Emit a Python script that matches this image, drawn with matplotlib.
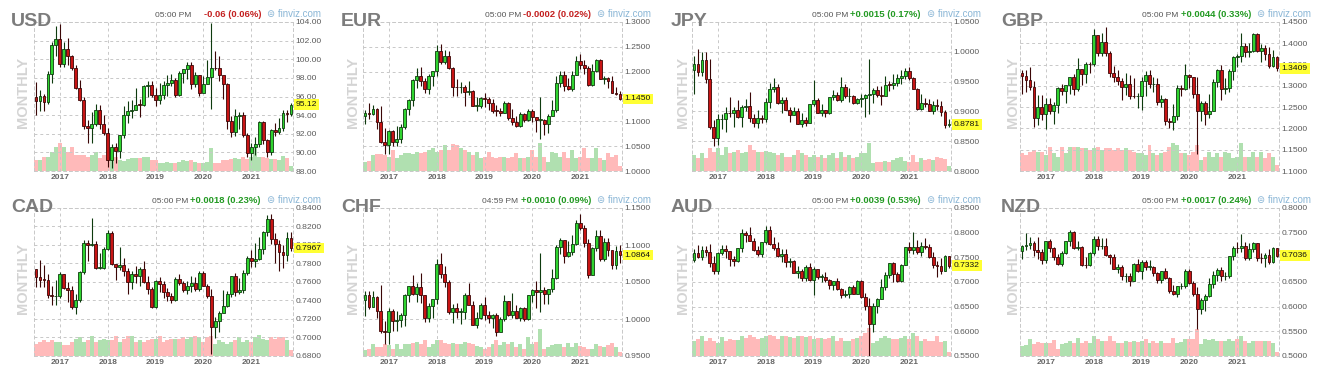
import matplotlib.pyplot as plt
import numpy as np
import pandas as pd
from matplotlib.ticker import FuncFormatter

plt.rcParams['font.family'] = ['Liberation Sans', 'DejaVu Sans']

# monthly candles, Jul 2016 .. Nov 2021 (65 months)
MONTHS = pd.date_range('2016-07-01', periods=65, freq='MS')

# ---- USD ----
USD_O0 = 96.0
USD_C = [95.53, 96.02, 95.45, 98.41, 101.50, 102.21,
         99.51, 101.12, 100.35, 99.05, 96.92, 95.63, 92.86, 92.67, 93.08, 94.55, 93.05, 92.12,
         89.13, 90.61, 90.15, 91.84, 93.98, 94.47, 94.54, 95.14, 95.13, 97.13, 97.27, 96.17,
         95.58, 96.14, 97.28, 97.48, 97.75, 96.13, 98.52, 98.92, 99.38, 97.35, 98.27, 96.39,
         97.39, 98.13, 99.05, 99.02, 98.34, 97.39, 93.35, 92.14, 93.89, 94.04, 91.87, 89.94,
         90.58, 90.88, 93.23, 91.28, 90.03, 92.44, 92.17, 92.63, 94.23, 94.12, 95.12]
USD_H = [97.6, 96.7, 96.3, 98.7, 101.9, 103.6,
         103.8, 101.8, 102.3, 100.5, 99.4, 97.8, 96.0, 93.5, 94.3, 95.2, 95.1, 94.0,
         92.6, 90.9, 91.0, 91.9, 95.0, 95.5, 95.6, 96.9, 95.7, 97.2, 97.7, 97.7,
         96.9, 97.4, 97.7, 98.3, 98.4, 98.0, 98.7, 99.0, 99.7, 99.7, 98.6, 98.3,
         98.2, 99.9, 103.9, 100.9, 100.4, 97.8, 97.5, 93.9, 94.7, 94.3, 94.3, 92.1,
         91.0, 91.6, 93.4, 93.4, 91.4, 92.5, 93.2, 93.7, 94.5, 94.6, 95.3]
USD_L = [94.0, 94.4, 94.4, 95.2, 97.4, 100.4,
         99.2, 99.2, 99.4, 98.8, 96.8, 95.5, 92.5, 91.0, 91.0, 92.8, 92.5, 91.9,
         88.4, 88.3, 88.9, 89.4, 91.5, 93.2, 93.7, 94.5, 93.8, 95.0, 96.0, 95.9,
         95.0, 95.2, 95.7, 96.1, 97.1, 95.9, 96.1, 97.4, 97.9, 96.8, 97.0, 96.1,
         96.8, 97.3, 94.7, 98.8, 97.7, 95.7, 92.5, 91.7, 91.8, 92.5, 91.7, 89.5,
         89.2, 89.7, 90.6, 90.9, 89.5, 89.7, 91.8, 92.0, 92.3, 93.3, 93.9]
USD_V = [33, 33, 43, 43, 58, 73,
         83, 73, 58, 73, 48, 48, 48, 43, 48, 58, 38, 48,
         43, 63, 43, 33, 31, 35, 38, 38, 38, 43, 41, 33,
         33, 23, 23, 28, 23, 23, 28, 33, 31, 33, 28, 23,
         23, 28, 68, 23, 23, 33, 33, 35, 38, 35, 43, 35,
         43, 68, 43, 43, 38, 35, 35, 33, 45, 38, 16]

# ---- EUR ----
EUR_O0 = 1.1105
EUR_C = [1.1174, 1.1157, 1.1240, 1.0981, 1.0588, 1.0517,
         1.0798, 1.0575, 1.0652, 1.0895, 1.1243, 1.1426, 1.1841, 1.1907, 1.1814, 1.1648, 1.1904, 1.2005,
         1.2414, 1.2194, 1.2324, 1.2075, 1.1692, 1.1684, 1.1692, 1.1600, 1.1605, 1.1311, 1.1314, 1.1466,
         1.1448, 1.1372, 1.1217, 1.1215, 1.1168, 1.1371, 1.1073, 1.0989, 1.0898, 1.1152, 1.1017, 1.1213,
         1.1093, 1.1027, 1.1031, 1.0955, 1.1101, 1.1234, 1.1778, 1.1936, 1.1720, 1.1646, 1.1928, 1.2216,
         1.2136, 1.2075, 1.1730, 1.2020, 1.2227, 1.1858, 1.1870, 1.1808, 1.1580, 1.1558, 1.1450]
EUR_H = [1.1234, 1.1366, 1.1327, 1.1278, 1.1300, 1.0875,
         1.0829, 1.0829, 1.0906, 1.0951, 1.1268, 1.1446, 1.1846, 1.2070, 1.2092, 1.1880, 1.1961, 1.2023,
         1.2537, 1.2556, 1.2446, 1.2414, 1.2097, 1.1852, 1.1791, 1.1734, 1.1815, 1.1625, 1.1500, 1.1486,
         1.1570, 1.1489, 1.1448, 1.1324, 1.1265, 1.1412, 1.1393, 1.1250, 1.1109, 1.1179, 1.1176, 1.1239,
         1.1239, 1.1097, 1.1496, 1.1040, 1.1147, 1.1422, 1.1908, 1.2011, 1.2011, 1.1880, 1.2004, 1.2310,
         1.2349, 1.2243, 1.2114, 1.2150, 1.2265, 1.2254, 1.1909, 1.1901, 1.1909, 1.1692, 1.1616]
EUR_L = [1.0952, 1.1046, 1.1122, 1.0852, 1.0569, 1.0352,
         1.0340, 1.0494, 1.0495, 1.0570, 1.0839, 1.1118, 1.1312, 1.1662, 1.1717, 1.1574, 1.1554, 1.1718,
         1.1916, 1.2155, 1.2155, 1.2055, 1.1510, 1.1508, 1.1576, 1.1301, 1.1527, 1.1302, 1.1216, 1.1269,
         1.1289, 1.1234, 1.1176, 1.1110, 1.1107, 1.1160, 1.1028, 1.0926, 1.0879, 1.0879, 1.0981, 1.1003,
         1.0992, 1.0778, 1.0636, 1.0727, 1.0767, 1.1098, 1.1185, 1.1696, 1.1612, 1.1622, 1.1603, 1.1924,
         1.2060, 1.1952, 1.1704, 1.1704, 1.1986, 1.1846, 1.1752, 1.1664, 1.1563, 1.1524, 1.1432]
EUR_V = [28, 31, 48, 51, 51, 48,
         43, 63, 38, 48, 53, 53, 51, 58, 53, 58, 63, 68,
         58, 63, 78, 63, 81, 78, 68, 63, 58, 48, 58, 38,
         43, 58, 43, 38, 43, 43, 38, 43, 53, 38, 38, 43,
         63, 43, 83, 43, 28, 58, 53, 43, 58, 38, 63, 38,
         43, 68, 38, 38, 68, 38, 33, 53, 43, 48, 16]

# ---- JPY ----
JPY_O0 = 0.9690
JPY_C = [0.9798, 0.9669, 0.9867, 0.9539, 0.8737, 0.8550,
         0.8866, 0.8868, 0.8977, 0.8969, 0.9027, 0.8898, 0.9070, 0.9092, 0.8888, 0.8798, 0.8887, 0.8874,
         0.9160, 0.9374, 0.9412, 0.9145, 0.9190, 0.9029, 0.8940, 0.9007, 0.8795, 0.8855, 0.8805, 0.9117,
         0.9185, 0.8979, 0.9022, 0.8975, 0.9236, 0.9272, 0.9193, 0.9409, 0.9252, 0.9257, 0.9133, 0.9207,
         0.9229, 0.9268, 0.9299, 0.9355, 0.9278, 0.9265, 0.9449, 0.9445, 0.9471, 0.9555, 0.9588, 0.9685,
         0.9553, 0.9383, 0.9032, 0.9148, 0.9127, 0.9001, 0.9114, 0.9089, 0.8986, 0.8776, 0.8781]
JPY_H = [0.993, 1.005, 0.999, 0.999, 0.988, 0.886,
         0.896, 0.896, 0.908, 0.925, 0.907, 0.919, 0.910, 0.921, 0.932, 0.895, 0.902, 0.894,
         0.923, 0.947, 0.956, 0.946, 0.925, 0.925, 0.907, 0.908, 0.906, 0.898, 0.890, 0.912,
         0.953, 0.922, 0.912, 0.903, 0.923, 0.936, 0.933, 0.957, 0.946, 0.939, 0.927, 0.922,
         0.929, 0.930, 0.988, 0.940, 0.943, 0.943, 0.960, 0.951, 0.962, 0.962, 0.969, 0.972,
         0.975, 0.958, 0.940, 0.930, 0.923, 0.921, 0.917, 0.920, 0.917, 0.903, 0.887]
JPY_L = [0.930, 0.959, 0.959, 0.948, 0.871, 0.842,
         0.843, 0.870, 0.866, 0.891, 0.874, 0.889, 0.873, 0.901, 0.883, 0.874, 0.872, 0.880,
         0.882, 0.905, 0.932, 0.912, 0.898, 0.902, 0.883, 0.894, 0.879, 0.873, 0.876, 0.880,
         0.909, 0.897, 0.892, 0.890, 0.895, 0.919, 0.917, 0.915, 0.922, 0.915, 0.912, 0.912,
         0.907, 0.891, 0.895, 0.914, 0.925, 0.910, 0.928, 0.934, 0.938, 0.943, 0.946, 0.954,
         0.952, 0.937, 0.902, 0.902, 0.907, 0.900, 0.895, 0.902, 0.892, 0.872, 0.874]
JPY_V = [48, 38, 53, 38, 68, 58,
         68, 48, 73, 53, 58, 63, 53, 58, 78, 63, 58, 58,
         61, 58, 53, 48, 53, 43, 43, 48, 63, 53, 48, 43,
         48, 43, 48, 38, 48, 53, 38, 58, 43, 48, 38, 43,
         53, 53, 83, 23, 28, 28, 30, 28, 33, 38, 43, 30,
         28, 48, 28, 38, 33, 35, 33, 43, 38, 35, 15]

# ---- GBP ----
GBP_O0 = 1.3311
GBP_C = [1.3233, 1.3131, 1.2973, 1.2244, 1.2511, 1.2340,
         1.2575, 1.2411, 1.2551, 1.2946, 1.2887, 1.3025, 1.3210, 1.2929, 1.3398, 1.3281, 1.3525, 1.3503,
         1.4190, 1.3772, 1.4029, 1.3762, 1.3301, 1.3197, 1.3123, 1.2969, 1.3035, 1.2765, 1.2751, 1.2755,
         1.3117, 1.3264, 1.3034, 1.3041, 1.2624, 1.2697, 1.2165, 1.2160, 1.2293, 1.2939, 1.2936, 1.3261,
         1.3205, 1.2818, 1.2421, 1.2591, 1.2344, 1.2401, 1.3089, 1.3372, 1.2918, 1.2944, 1.3346, 1.3673,
         1.3705, 1.3936, 1.3784, 1.3815, 1.4214, 1.3827, 1.3900, 1.3755, 1.3473, 1.3684, 1.3409]
GBP_H = [1.3372, 1.3372, 1.3445, 1.3120, 1.2775, 1.2775,
         1.2706, 1.2706, 1.2615, 1.2965, 1.3048, 1.3013, 1.3212, 1.3268, 1.3658, 1.3339, 1.3549, 1.3549,
         1.4345, 1.4145, 1.4245, 1.4377, 1.3822, 1.3473, 1.3363, 1.3195, 1.3298, 1.3257, 1.3176, 1.2841,
         1.3216, 1.3350, 1.3381, 1.3197, 1.3177, 1.2784, 1.2709, 1.2249, 1.2582, 1.3013, 1.3012, 1.3514,
         1.3284, 1.3200, 1.3200, 1.2648, 1.2647, 1.2813, 1.3169, 1.3395, 1.3482, 1.3177, 1.3398, 1.3703,
         1.3758, 1.4241, 1.4006, 1.4009, 1.4250, 1.4249, 1.3984, 1.3958, 1.3913, 1.3834, 1.3698]
GBP_L = [1.2797, 1.2866, 1.2913, 1.2030, 1.2086, 1.2200,
         1.1986, 1.2345, 1.2109, 1.2366, 1.2774, 1.2589, 1.2812, 1.2774, 1.2874, 1.3028, 1.3063, 1.3300,
         1.3455, 1.3712, 1.3712, 1.3712, 1.3205, 1.3101, 1.3011, 1.2662, 1.2786, 1.2695, 1.2723, 1.2477,
         1.2438, 1.2773, 1.2945, 1.2867, 1.2560, 1.2506, 1.2080, 1.2015, 1.1959, 1.2195, 1.2769, 1.2905,
         1.2955, 1.2725, 1.1409, 1.2165, 1.2076, 1.2252, 1.2479, 1.2983, 1.2676, 1.2806, 1.2854, 1.3135,
         1.3451, 1.3567, 1.3668, 1.3668, 1.3801, 1.3787, 1.3572, 1.3602, 1.3412, 1.3434, 1.3352]
GBP_V = [53, 48, 58, 63, 58, 58,
         48, 73, 53, 43, 73, 53, 73, 73, 73, 68, 68, 63,
         68, 73, 63, 68, 68, 63, 68, 63, 68, 63, 58, 53,
         53, 48, 78, 53, 48, 53, 58, 73, 83, 78, 53, 53,
         48, 58, 78, 33, 43, 58, 43, 53, 43, 58, 53, 38,
         43, 83, 43, 43, 58, 43, 58, 38, 55, 43, 18]

# ---- CAD ----
CAD_O0 = 0.7741
CAD_C = [0.7658, 0.7623, 0.7621, 0.7458, 0.7444, 0.7444,
         0.7688, 0.7530, 0.7518, 0.7326, 0.7407, 0.7712, 0.8023, 0.8005, 0.8015, 0.7753, 0.7754, 0.7956,
         0.8129, 0.7797, 0.7762, 0.7786, 0.7715, 0.7605, 0.7689, 0.7663, 0.7745, 0.7602, 0.7526, 0.7333,
         0.7612, 0.7583, 0.7489, 0.7446, 0.7401, 0.7636, 0.7594, 0.7512, 0.7552, 0.7594, 0.7527, 0.7699,
         0.7553, 0.7454, 0.7112, 0.7182, 0.7261, 0.7342, 0.7466, 0.7667, 0.7494, 0.7509, 0.7698, 0.7859,
         0.7823, 0.7849, 0.7957, 0.8138, 0.8285, 0.8070, 0.8015, 0.7926, 0.7893, 0.8077, 0.7967]
CAD_H = [0.7745, 0.7835, 0.7786, 0.7690, 0.7561, 0.7623,
         0.7711, 0.7688, 0.7597, 0.7561, 0.7472, 0.7716, 0.8055, 0.8055, 0.8291, 0.8045, 0.7911, 0.7974,
         0.8163, 0.8150, 0.7794, 0.7983, 0.7857, 0.7750, 0.7715, 0.7777, 0.7762, 0.7823, 0.7664, 0.7547,
         0.7623, 0.7652, 0.7616, 0.7534, 0.7476, 0.7655, 0.7683, 0.7614, 0.7614, 0.7667, 0.7652, 0.7721,
         0.7718, 0.7574, 0.7524, 0.7219, 0.7291, 0.7510, 0.7501, 0.7669, 0.7696, 0.7645, 0.7735, 0.7881,
         0.7944, 0.8021, 0.8087, 0.8152, 0.8328, 0.8339, 0.8126, 0.8050, 0.8004, 0.8138, 0.8139]
CAD_L = [0.7551, 0.7549, 0.7548, 0.7430, 0.7354, 0.7354,
         0.7431, 0.7524, 0.7388, 0.7310, 0.7250, 0.7386, 0.7684, 0.7826, 0.7984, 0.7742, 0.7742, 0.7739,
         0.7951, 0.7785, 0.7619, 0.7726, 0.7667, 0.7470, 0.7523, 0.7592, 0.7561, 0.7592, 0.7470, 0.7318,
         0.7318, 0.7495, 0.7425, 0.7395, 0.7371, 0.7392, 0.7566, 0.7493, 0.7473, 0.7492, 0.7503, 0.7507,
         0.7555, 0.7426, 0.6818, 0.6993, 0.7056, 0.7290, 0.7328, 0.7434, 0.7452, 0.7469, 0.7479, 0.7672,
         0.7763, 0.7763, 0.7842, 0.7904, 0.8096, 0.8008, 0.7808, 0.7723, 0.7754, 0.7828, 0.7934]
CAD_V = [37, 42, 47, 42, 47, 42,
         42, 32, 32, 42, 52, 57, 42, 47, 59, 42, 47, 52,
         49, 47, 59, 42, 52, 59, 59, 42, 47, 42, 49, 52,
         52, 59, 42, 47, 52, 52, 52, 57, 52, 57, 59, 57,
         42, 57, 59, 37, 47, 42, 37, 42, 47, 57, 42, 49,
         42, 57, 62, 52, 47, 57, 52, 57, 57, 47, 17]

# ---- CHF ----
CHF_O0 = 1.0251
CHF_C = [1.0325, 1.0163, 1.0300, 1.0112, 0.9839, 0.9820,
         1.0107, 0.9968, 0.9984, 1.0057, 1.0328, 1.0443, 1.0341, 1.0426, 1.0324, 1.0020, 1.0179, 1.0264,
         1.0748, 1.0611, 1.0494, 1.0097, 1.0146, 1.0099, 1.0099, 1.0325, 1.0185, 0.9922, 1.0016, 1.0188,
         1.0057, 1.0018, 1.0052, 0.9820, 0.9996, 1.0247, 1.0053, 1.0113, 1.0018, 1.0142, 1.0001, 1.0331,
         1.0398, 1.0361, 1.0398, 1.0342, 1.0400, 1.0554, 1.0971, 1.1062, 1.0857, 1.0908, 1.1013, 1.1302,
         1.1236, 1.1028, 1.0595, 1.0959, 1.1122, 1.0811, 1.1044, 1.0933, 1.0724, 1.0922, 1.0864]
CHF_H = [1.0377, 1.0382, 1.0382, 1.0316, 1.0460, 0.9974,
         1.0146, 1.0141, 1.0102, 1.0082, 1.0334, 1.0445, 1.0596, 1.0493, 1.0616, 1.0322, 1.0218, 1.0263,
         1.0808, 1.0886, 1.0714, 1.0522, 1.0197, 1.0217, 1.0155, 1.0348, 1.0480, 1.0242, 1.0097, 1.0217,
         1.0292, 1.0105, 1.0065, 1.0083, 1.0030, 1.0318, 1.0243, 1.0354, 1.0185, 1.0163, 1.0160, 1.0331,
         1.0404, 1.0520, 1.0892, 1.0436, 1.0411, 1.0669, 1.0996, 1.1088, 1.1050, 1.1050, 1.1132, 1.1338,
         1.1419, 1.1270, 1.1082, 1.0967, 1.1203, 1.1203, 1.1089, 1.1088, 1.0911, 1.0982, 1.1006]
CHF_L = [1.0043, 1.0129, 1.0160, 1.0013, 0.9815, 0.9667,
         0.9668, 0.9833, 0.9833, 0.9896, 0.9904, 1.0236, 1.0327, 1.0233, 1.0219, 0.9963, 0.9962, 1.0020,
         1.0209, 1.0555, 1.0438, 1.0062, 0.9944, 1.0007, 0.9935, 1.0000, 1.0196, 0.9921, 0.9873, 1.0002,
         0.9987, 0.9945, 0.9877, 0.9768, 0.9854, 0.9974, 1.0037, 1.0010, 1.0010, 0.9973, 0.9976, 0.9985,
         1.0225, 1.0152, 1.0099, 1.0202, 1.0202, 1.0362, 1.0543, 1.0872, 1.0758, 1.0841, 1.0860, 1.0996,
         1.1202, 1.0973, 1.0556, 1.0597, 1.0923, 1.0784, 1.0782, 1.0857, 1.0675, 1.0672, 1.0753]
CHF_V = [17, 22, 35, 27, 27, 37,
         32, 22, 37, 22, 37, 37, 39, 42, 37, 47, 27, 37,
         47, 47, 39, 35, 39, 37, 37, 42, 39, 37, 29, 27,
         22, 27, 37, 47, 32, 42, 37, 42, 27, 37, 22, 57,
         37, 42, 82, 22, 27, 32, 35, 35, 27, 39, 27, 39,
         29, 27, 22, 22, 37, 29, 27, 32, 39, 27, 12]

# ---- AUD ----
AUD_O0 = 0.7447
AUD_C = [0.7597, 0.7515, 0.7654, 0.7604, 0.7387, 0.7215,
         0.7585, 0.7672, 0.7637, 0.7476, 0.7423, 0.7684, 0.7999, 0.7948, 0.7839, 0.7653, 0.7564, 0.7802,
         0.8061, 0.7764, 0.7681, 0.7530, 0.7565, 0.7398, 0.7430, 0.7188, 0.7225, 0.7087, 0.7311, 0.7048,
         0.7271, 0.7100, 0.7101, 0.7047, 0.6932, 0.7021, 0.6849, 0.6728, 0.6751, 0.6897, 0.6763, 0.7021,
         0.6693, 0.6505, 0.6153, 0.6510, 0.6665, 0.6902, 0.7145, 0.7376, 0.7161, 0.7030, 0.7349, 0.7703,
         0.7646, 0.7701, 0.7601, 0.7721, 0.7712, 0.7500, 0.7339, 0.7316, 0.7226, 0.7522, 0.7332]
AUD_H = [0.7676, 0.7757, 0.7734, 0.7734, 0.7778, 0.7529,
         0.7610, 0.7741, 0.7749, 0.7623, 0.7517, 0.7697, 0.8066, 0.8025, 0.8125, 0.7897, 0.7732, 0.7818,
         0.8136, 0.8135, 0.7917, 0.7812, 0.7676, 0.7677, 0.7484, 0.7453, 0.7315, 0.7263, 0.7340, 0.7394,
         0.7295, 0.7237, 0.7168, 0.7207, 0.7068, 0.7026, 0.7082, 0.6869, 0.6838, 0.6929, 0.6930, 0.7032,
         0.7031, 0.6774, 0.6685, 0.6570, 0.6684, 0.7064, 0.7200, 0.7376, 0.7414, 0.7209, 0.7370, 0.7716,
         0.7820, 0.8007, 0.7849, 0.7817, 0.7891, 0.7775, 0.7599, 0.7427, 0.7478, 0.7556, 0.7536]
AUD_L = [0.7413, 0.7496, 0.7441, 0.7520, 0.7310, 0.7160,
         0.7160, 0.7557, 0.7491, 0.7329, 0.7329, 0.7407, 0.7609, 0.7808, 0.7833, 0.7624, 0.7532, 0.7501,
         0.7762, 0.7759, 0.7643, 0.7502, 0.7411, 0.7311, 0.7310, 0.7203, 0.7085, 0.7020, 0.7021, 0.7016,
         0.6745, 0.7054, 0.7003, 0.7007, 0.6864, 0.6832, 0.6847, 0.6677, 0.6689, 0.6671, 0.6754, 0.6754,
         0.6682, 0.6434, 0.5510, 0.5980, 0.6372, 0.6650, 0.6834, 0.7076, 0.7006, 0.6991, 0.6991, 0.7340,
         0.7592, 0.7564, 0.7563, 0.7532, 0.7675, 0.7478, 0.7290, 0.7106, 0.7170, 0.7227, 0.7275]
AUD_V = [45, 50, 60, 45, 55, 45,
         40, 58, 45, 50, 48, 48, 60, 55, 62, 58, 50, 55,
         60, 62, 60, 50, 60, 60, 58, 55, 60, 60, 58, 60,
         50, 55, 55, 50, 55, 60, 45, 55, 45, 45, 50, 55,
         60, 70, 85, 40, 45, 55, 60, 55, 50, 50, 55, 60,
         50, 70, 60, 45, 50, 45, 45, 60, 42, 45, 12]

# ---- NZD ----
NZD_O0 = 0.7129
NZD_C = [0.7220, 0.7256, 0.7285, 0.7148, 0.7114, 0.6936,
         0.7327, 0.7191, 0.7006, 0.6865, 0.7087, 0.7327, 0.7508, 0.7185, 0.7216, 0.6848, 0.6842, 0.7092,
         0.7366, 0.7220, 0.7232, 0.7038, 0.6997, 0.6771, 0.6814, 0.6617, 0.6630, 0.6529, 0.6873, 0.6714,
         0.6910, 0.6808, 0.6811, 0.6680, 0.6533, 0.6717, 0.6576, 0.6311, 0.6263, 0.6413, 0.6421, 0.6732,
         0.6474, 0.6256, 0.5962, 0.6132, 0.6210, 0.6451, 0.6636, 0.6734, 0.6615, 0.6615, 0.7019, 0.7196,
         0.7186, 0.7235, 0.6982, 0.7160, 0.7293, 0.6986, 0.6980, 0.7045, 0.6903, 0.7185, 0.7036]
NZD_H = [0.7242, 0.7485, 0.7403, 0.7324, 0.7403, 0.7160,
         0.7335, 0.7376, 0.7214, 0.7062, 0.7121, 0.7328, 0.7558, 0.7527, 0.7337, 0.7226, 0.7015, 0.7113,
         0.7436, 0.7438, 0.7386, 0.7392, 0.7061, 0.7060, 0.6873, 0.6848, 0.6677, 0.6686, 0.6894, 0.6970,
         0.6942, 0.6943, 0.6940, 0.6829, 0.6701, 0.6725, 0.6790, 0.6596, 0.6447, 0.6429, 0.6472, 0.6756,
         0.6756, 0.6528, 0.6391, 0.6175, 0.6252, 0.6584, 0.6716, 0.6790, 0.6798, 0.6700, 0.7027, 0.7221,
         0.7315, 0.7465, 0.7307, 0.7286, 0.7317, 0.7300, 0.7089, 0.7089, 0.7170, 0.7218, 0.7196]
NZD_L = [0.6976, 0.7146, 0.7175, 0.7033, 0.6974, 0.6862,
         0.6890, 0.7110, 0.6953, 0.6843, 0.6818, 0.7063, 0.7229, 0.7171, 0.7158, 0.6818, 0.6780, 0.6819,
         0.7042, 0.7155, 0.7172, 0.7027, 0.6862, 0.6764, 0.6688, 0.6536, 0.6501, 0.6424, 0.6519, 0.6695,
         0.6567, 0.6742, 0.6749, 0.6623, 0.6482, 0.6489, 0.6562, 0.6270, 0.6233, 0.6204, 0.6355, 0.6371,
         0.6454, 0.6210, 0.5540, 0.5842, 0.5910, 0.6190, 0.6377, 0.6522, 0.6511, 0.6544, 0.6588, 0.6955,
         0.7094, 0.7099, 0.6943, 0.6943, 0.7114, 0.6923, 0.6881, 0.6805, 0.6859, 0.6877, 0.7016]
NZD_V = [30, 32, 52, 35, 42, 38,
         40, 40, 48, 22, 35, 40, 45, 38, 55, 38, 45, 40,
         60, 50, 45, 45, 60, 45, 40, 38, 45, 42, 45, 42,
         45, 50, 40, 45, 40, 45, 40, 40, 53, 40, 42, 50,
         50, 50, 82, 35, 52, 48, 50, 45, 45, 45, 50, 45,
         50, 60, 45, 40, 45, 45, 45, 45, 45, 40, 12]

NAMES = ['USD', 'EUR', 'JPY', 'GBP', 'CAD', 'CHF', 'AUD', 'NZD']
TIMES = ['05:00 PM', '05:00 PM', '05:00 PM', '05:00 PM', '05:00 PM', '04:59 PM', '05:00 PM', '05:00 PM']
CHANGES = ['-0.06 (0.06%)', '-0.0002 (0.02%)', '+0.0015 (0.17%)', '+0.0044 (0.33%)',
           '+0.0018 (0.23%)', '+0.0010 (0.09%)', '+0.0039 (0.53%)', '+0.0017 (0.24%)']
YRANGES = [(88, 104, 2), (1.0, 1.3, 0.05), (0.80, 1.05, 0.05), (1.10, 1.45, 0.05),
           (0.68, 0.84, 0.02), (0.95, 1.15, 0.05), (0.55, 0.85, 0.05), (0.50, 0.80, 0.05)]
SERIES = [(USD_O0, USD_C, USD_H, USD_L, USD_V), (EUR_O0, EUR_C, EUR_H, EUR_L, EUR_V),
          (JPY_O0, JPY_C, JPY_H, JPY_L, JPY_V), (GBP_O0, GBP_C, GBP_H, GBP_L, GBP_V),
          (CAD_O0, CAD_C, CAD_H, CAD_L, CAD_V), (CHF_O0, CHF_C, CHF_H, CHF_L, CHF_V),
          (AUD_O0, AUD_C, AUD_H, AUD_L, AUD_V), (NZD_O0, NZD_C, NZD_H, NZD_L, NZD_V)]

W, H = 1319, 379
fig = plt.figure(figsize=(W / 100, H / 100), dpi=100)
renderer = fig.canvas.get_renderer()

LEFTS = [34, 363, 692, 1020]
TOPS = [22, 208]
PH = [149, 148]
PW = 259

GRID = '#c8c8c8'
jan_idx = [i for i, m in enumerate(MONTHS) if m.month == 1]
jan_lab = [str(MONTHS[i].year) for i in jan_idx]

for k, name in enumerate(NAMES):
    col, row = k % 4, k // 4
    o0, c, hi, lo, vol = SERIES[k]
    c = np.array(c)
    o = np.array([o0] + list(c[:-1]))
    hi = np.array(hi)
    lo = np.array(lo)
    x = np.arange(len(c))
    up = c >= o
    ymin, ymax, step = YRANGES[k]
    fmt = '{:.2f}' if name == 'USD' else '{:.4f}'

    left, top, ph = LEFTS[col], TOPS[row], PH[row]
    ax = fig.add_axes([left / W, 1 - (top + ph) / H, PW / W, ph / H])
    vax = ax.twinx()
    vax.bar(x, vol, width=1.0, color=np.where(up, '#b0e0b0', '#ffbaba'), linewidth=0)
    vax.set_ylim(0, 446)
    vax.set_yticks([])
    for s in vax.spines.values():
        s.set_visible(False)
    ax.set_zorder(vax.get_zorder() + 1)
    ax.patch.set_visible(False)

    ax.vlines(x, lo, hi, colors=np.where(up, '#0e3a0e', '#3a0606'), lw=0.8, zorder=3)
    body = np.maximum(np.abs(c - o), (ymax - ymin) * 0.004)
    ax.bar(x, body, bottom=np.minimum(o, c), width=0.72,
           color=np.where(up, '#2fd42f', '#c81414'),
           edgecolor=np.where(up, '#0e3a0e', '#3a0606'), linewidth=0.6, zorder=4)

    ax.set_xlim(-0.5, len(c) - 0.5)
    ax.set_ylim(ymin, ymax)
    ax.set_yticks(np.arange(ymin, ymax + step / 2, step))
    ax.yaxis.set_major_formatter(FuncFormatter(lambda v, p, f=fmt: f.format(v)))
    ax.yaxis.tick_right()
    ax.tick_params(axis='y', length=0, pad=2, labelsize=6.1, labelcolor='#5a5a5a')
    ax.set_xticks(jan_idx)
    ax.set_xticklabels(jan_lab, fontweight='bold')
    ax.tick_params(axis='x', length=0, pad=2.5, labelsize=6, labelcolor='#666666')
    ax.grid(True, ls=(0, (3, 3)), color=GRID, lw=0.7)
    for s in ax.spines.values():
        s.set_linestyle((0, (3, 3)))
        s.set_color(GRID)
        s.set_linewidth(0.7)

    ax.annotate(fmt.format(c[-1]), xy=(1, c[-1]), xycoords=('axes fraction', 'data'),
                xytext=(2, 0), textcoords='offset points', ha='left', va='center',
                fontsize=6.1, color='#111111', zorder=10, annotation_clip=False,
                bbox=dict(boxstyle='square,pad=0.22', fc='#ffff33', ec='none'))

    # header texts
    x0 = col * 330 if col < 3 else 990
    yb = 1 - (17 if row == 0 else 203) / H
    fig.text((x0 + 11) / W, 1 - (26 if row == 0 else 212) / H, name, fontsize=14,
             fontweight='bold', color='#7c7c7c', va='baseline')
    fig.text((x0 + 23) / W, 1 - (92 if row == 0 else 278) / H, 'MONTHLY', rotation=90,
             fontsize=10.5, fontweight='bold', color='#d4d4d4', ha='center', va='center')
    chg_col = '#c42020' if CHANGES[k].startswith('-') else '#239a23'
    tc = fig.text((x0 + 261) / W, yb, CHANGES[k], fontsize=6.8, fontweight='bold',
                  color=chg_col, ha='right', va='baseline')
    cl = tc.get_window_extent(renderer).x0
    tx = min(x0 + 191, cl - 2)
    fig.text(tx / W, yb, TIMES[k], fontsize=6, color='#555555', ha='right', va='baseline')
    fig.text((x0 + 267) / W, yb, '\u229c finviz.com', fontsize=7, color='#8ab6d6',
             ha='left', va='baseline')

fig.savefig('out.png', dpi=100)
